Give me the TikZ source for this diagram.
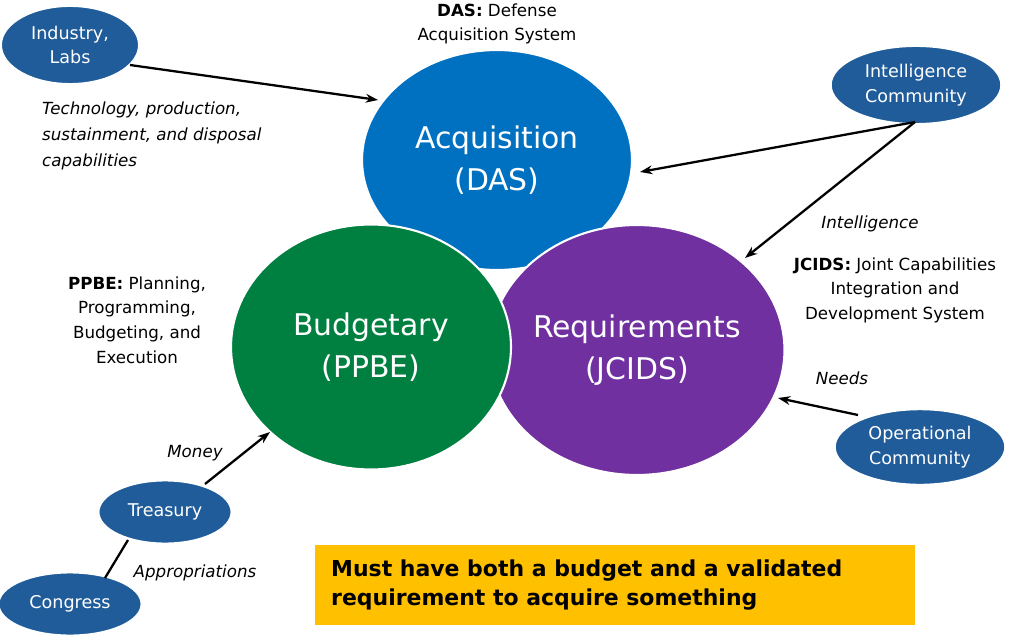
\documentclass[tikz,border=0pt]{standalone}
\usepackage{fontspec}
\setmainfont{DejaVu Sans}
\usetikzlibrary{shapes.geometric,arrows.meta}
\definecolor{acqblue}{HTML}{0070C0}
\definecolor{budgreen}{HTML}{008040}
\definecolor{reqpurple}{HTML}{7030A0}
\definecolor{smallblue}{HTML}{1F5C99}
\definecolor{notebox}{HTML}{FFC000}
\tikzset{
  big/.style={ellipse, draw=white, line width=1.2pt, inner sep=0pt, text=white,
    align=center, font=\fontsize{17}{24}\selectfont},
  party/.style={ellipse, fill=smallblue, draw=white, line width=0.8pt, inner sep=0pt,
    text=white, align=center, font=\fontsize{10}{14}\selectfont},
  note/.style={font=\fontsize{9.5}{15}\selectfont\itshape, align=left},
  label/.style={font=\fontsize{9.5}{14}\selectfont, align=center},
  feed/.style={-{Stealth[length=7pt,width=5pt]}, line width=1.3pt}
}
\begin{document}
\begin{tikzpicture}[x=0.02cm,y=-0.02cm]
\useasboundingbox (0,0) rectangle (1024,635);

% the three processes
\node[big, fill=acqblue, minimum width=5.4cm, minimum height=4.4cm] (acq) at (497,160) {Acquisition\\(DAS)};
\node[big, fill=reqpurple, minimum width=5.9cm, minimum height=5cm] (req) at (637,350) {Requirements\\(JCIDS)};
\node[big, fill=budgreen, minimum width=5.6cm, minimum height=4.9cm] (bud) at (371,347) {Budgetary\\(PPBE)};

% outside communities
\node[party, minimum width=2.75cm, minimum height=1.55cm] (labs) at (70,45) {Industry,\\Labs};
\node[party, minimum width=3.4cm, minimum height=1.55cm] (intel) at (916,85) {Intelligence\\Community};
\node[party, minimum width=3.4cm, minimum height=1.5cm] (ops) at (920,447) {Operational\\Community};
\node[party, minimum width=2.65cm, minimum height=1.25cm] (treas) at (165,512) {Treasury};
\node[party, minimum width=2.85cm, minimum height=1.25cm] (cong) at (70,604) {Congress};

% connectors
\coordinate (labsfoot) at (130,65);
\coordinate (acqin) at (378,100);
\coordinate (intelfoot) at (915,122);
\coordinate (acqright) at (640,172);
\coordinate (reqtop) at (745,258);
\coordinate (opsfoot) at (858,415);
\coordinate (reqright) at (778,398);
\coordinate (congfoot) at (105,578);
\coordinate (treasfoot) at (128,540);
\coordinate (treastop) at (205,484);
\coordinate (budin) at (270,432);
\draw[feed] (labsfoot) -- (acqin);
\draw[feed] (intelfoot) -- (acqright);
\draw[feed] (intelfoot) -- (reqtop);
\draw[feed] (opsfoot) -- (reqright);
\draw[line width=1.3pt] (congfoot) -- (treasfoot);
\draw[feed] (treastop) -- (budin);

% texts
\node[label] (dasl) at (497,24) {\textbf{DAS:} Defense\\Acquisition System};
\node[note, anchor=west] (tech) at (36,136) {Technology, production,\\sustainment, and disposal\\capabilities};
\node[note] (intl) at (870,224) {Intelligence};
\node[label] (jcl) at (895,290) {\textbf{JCIDS:} Joint Capabilities\\Integration and\\Development System};
\node[note] (needs) at (842,378) {Needs};
\node[label] (ppl) at (137,320) {\textbf{PPBE:} Planning,\\Programming,\\Budgeting, and\\Execution};
\node[note] (money) at (195,453) {Money};
\node[note] (appr) at (195,573) {Appropriations};
\fill[notebox] (315,545) rectangle (915,625);
\node[anchor=west, align=left, font=\fontsize{12.5}{17}\selectfont\bfseries] (must) at (325,585)
  {Must have both a budget and a validated\\requirement to acquire something};
\end{tikzpicture}
\end{document}
